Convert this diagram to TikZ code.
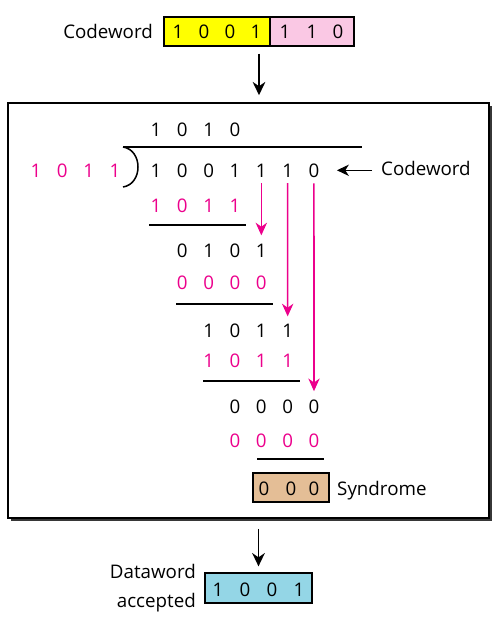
\documentclass[tikz,border=0pt]{standalone}
\usepackage{fontspec}
\setmainfont{Open Sans}
\usepackage{xcolor}
\usetikzlibrary{arrows.meta, shadows, calc}
\definecolor{rubine}{RGB}{236, 0, 140}
\definecolor{codeyellow}{RGB}{255, 255, 0}
\definecolor{codepink}{RGB}{250, 200, 228}
\definecolor{syndtan}{RGB}{228, 190, 150}
\definecolor{datablue}{RGB}{148, 214, 230}
\definecolor{shadowgray}{RGB}{55, 55, 55}

\begin{document}
\begin{tikzpicture}[x=0.3mm, y=-0.3mm, font=\fontsize{16}{21}\selectfont,
    bit/.style={inner sep=0pt, anchor=base},
    bitbox/.style={draw, line width=1.1pt, minimum height=8.7mm, inner sep=0pt},
    divline/.style={line width=1pt},
    blackarrow/.style={-{Stealth[length=4mm, width=3.8mm, inset=1.3mm]}, line width=1.6pt},
    pinkarrow/.style={-{Stealth[length=3.8mm, width=3.4mm, inset=1.2mm]}, rubine, line width=1.3pt}]
    \useasboundingbox[fill=white] (0,0) rectangle (501,627);

    % Received codeword
    \node[bitbox, fill=codeyellow, minimum width=31.8mm] (cwdata) at (217,31.5) {};
    \node[bitbox, fill=codepink, minimum width=25.2mm] (cwcheck) at (312,31.5) {};
    \foreach \b/\xx in {1/178, 0/204, 0/230, 1/256, 1/285, 1/312, 0/338}
        \node[bit] (cw\xx) at (\xx,39) {\b};
    \node[anchor=base east, inner sep=0pt] (cwlabel) at (153,39) {Codeword};
    \coordinate (cwmid) at ($(cwdata.south west)!0.5!(cwcheck.south east)$);

    % Checker box with shadow
    \node[draw, line width=1.3pt, fill=white, minimum width=144.3mm, minimum height=124.5mm,
        drop shadow={shadow xshift=0.9mm, shadow yshift=-0.9mm, fill=shadowgray, opacity=1}]
        (checker) at (248.5,310.5) {};
    \draw[blackarrow, shorten <=2.1mm, shorten >=2.1mm] (cwmid) -- (cwmid |- checker.north);

    % Division bar and bracket
    \draw[divline] (123,147) -- (362,147);
    \draw[line width=1.3pt] (123,147) .. controls (143,150) and (143,184) .. (123,187);

    % Quotient, divisor and dividend
    \foreach \b [count=\i] in {1,0,1,0}
        \node[bit] (q-\i) at ({156+26.33*(\i-1)},137) {\b};
    \foreach \b [count=\i] in {1,0,1,1}
        \node[bit, text=rubine] (v-\i) at ({36+26.33*(\i-1)},177) {\b};
    \foreach \b [count=\i] in {1,0,0,1,1,1,0}
        \node[bit] (d-\i) at ({156+26.33*(\i-1)},177) {\b};
    \node[anchor=base west, inner sep=0pt] (cwlabel2) at (381,175) {Codeword};
    \draw[-{Stealth[length=3.6mm, width=3.4mm, inset=1.1mm]}, line width=1.1pt, shorten <=2.7mm, shorten >=5.2mm]
        (cwlabel2.west |- d-7.east) -- (d-7.east);

    % Steps of the division
    \foreach \b [count=\i] in {1,0,1,1}
        \node[bit, text=rubine] (r2-\i) at ({156+26.33*(\i-1)},212) {\b};
    \draw[divline] (149,225) -- (246,225);
    \foreach \b [count=\i] in {0,1,0,1}
        \node[bit] (r3-\i) at ({182.33+26.33*(\i-1)},257) {\b};
    \foreach \b [count=\i] in {0,0,0,0}
        \node[bit, text=rubine] (r4-\i) at ({182.33+26.33*(\i-1)},289) {\b};
    \draw[divline] (176,304) -- (273,304);
    \foreach \b [count=\i] in {1,0,1,1}
        \node[bit] (r5-\i) at ({208.67+26.33*(\i-1)},337) {\b};
    \foreach \b [count=\i] in {1,0,1,1}
        \node[bit, text=rubine] (r6-\i) at ({208.67+26.33*(\i-1)},367) {\b};
    \draw[divline] (203,381) -- (300,381);
    \foreach \b [count=\i] in {0,0,0,0}
        \node[bit] (r7-\i) at ({235+26.33*(\i-1)},413) {\b};
    \foreach \b [count=\i] in {0,0,0,0}
        \node[bit, text=rubine] (r8-\i) at ({235+26.33*(\i-1)},447) {\b};
    \draw[divline] (257,459) -- (324,459);

    % Bits brought down
    \draw[pinkarrow, shorten <=1.8mm, shorten >=2.4mm] (d-5.south) -- (r3-4.north);
    \draw[pinkarrow, shorten <=1.8mm, shorten >=2.1mm] (d-6.south) -- (r5-4.north);
    \draw[pinkarrow, shorten <=1.8mm, shorten >=2.4mm] (d-7.south) -- (r7-4.north);

    % Syndrome
    \node[bitbox, fill=syndtan, minimum width=22.8mm] (synd) at (291,487.5) {};
    \foreach \b/\xx in {0/264, 0/291, 0/314}
        \node[bit] (s\xx) at (\xx,495) {\b};
    \node[anchor=base west, inner sep=0pt] (syndlabel) at (337,495) {Syndrome};

    % Accepted dataword
    \node[bitbox, fill=datablue, minimum width=32.1mm, minimum height=9mm] (dataword) at (258.5,588) {};
    \foreach \b/\xx in {1/218, 0/245, 0/272, 1/299}
        \node[bit] (dw\xx) at (\xx,596) {\b};
    \node[anchor=base east, inner sep=0pt, align=right, font=\fontsize{16}{24}\selectfont]
        (dwlabel) at (196,607) {Dataword\\accepted};
    \draw[blackarrow, shorten <=3mm, shorten >=1.8mm] (dataword.north |- checker.south) -- (dataword.north);
\end{tikzpicture}
\end{document}
